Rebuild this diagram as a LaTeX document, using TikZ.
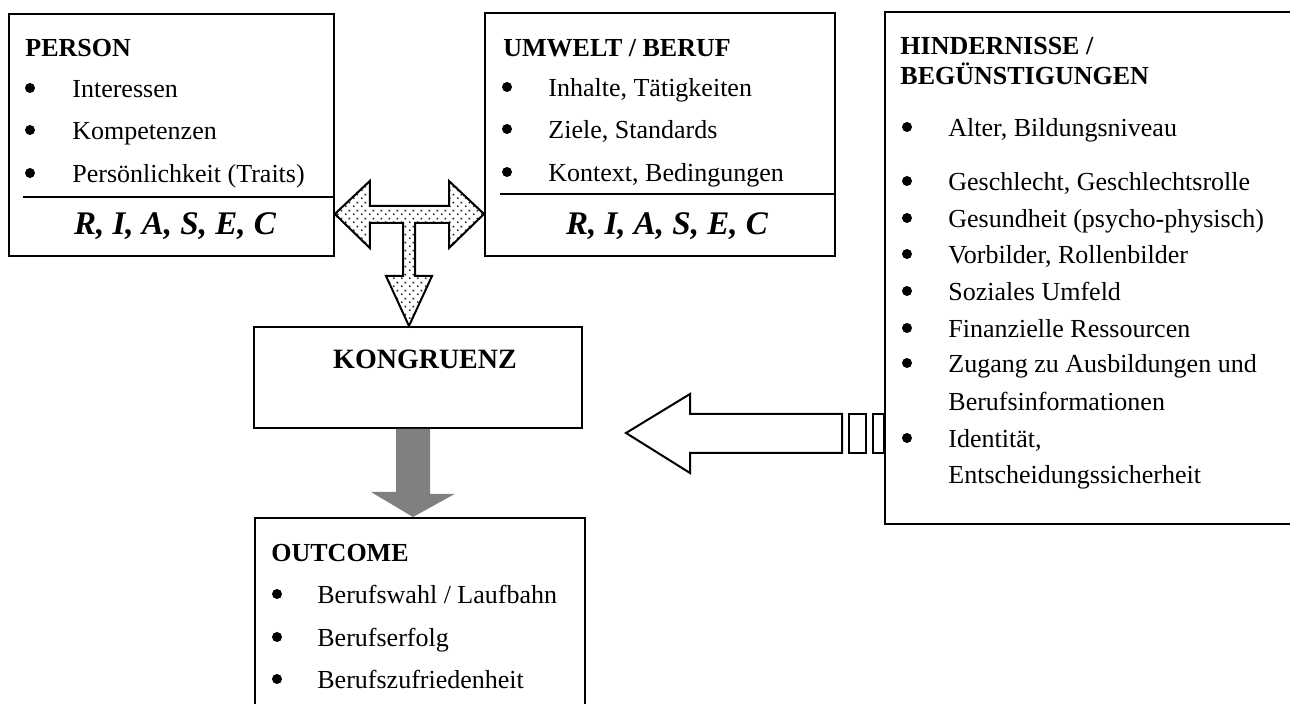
\documentclass[tikz,border=0pt]{standalone}
\usepackage{fontspec}
\setmainfont{Liberation Serif}
\usetikzlibrary{calc,patterns.meta}

\tikzdeclarepattern{
  name=sparsedots,
  type=uncolored,
  bottom left={(0pt,0pt)},
  top right={(4pt,4pt)},
  tile size={(4pt,4pt)},
  code={
    \pgfpathcircle{\pgfpoint{1pt}{1pt}}{0.6pt}
    \pgfpathcircle{\pgfpoint{3pt}{3pt}}{0.6pt}
    \pgfusepath{fill}
  }
}

\begin{document}
\begin{tikzpicture}[
    x=0.5pt, y=-0.5pt,
    box/.style={draw, line width=0.9pt, inner sep=0pt, anchor=north west},
    heading/.style={anchor=base west, inner sep=0pt, font=\fontsize{13}{15}\selectfont\bfseries},
    entry/.style={anchor=base west, inner sep=0pt, font=\fontsize{13}{15}\selectfont},
    bulletdot/.style={circle, fill, inner sep=0pt, minimum size=5pt},
    riasec/.style={anchor=base, inner sep=0pt, font=\fontsize{16.5}{18}\selectfont\bfseries\itshape},
    blockarrow/.style={draw, line width=1pt, line join=miter},
    dotarrow/.style={blockarrow, preaction={fill=white}, pattern=sparsedots, pattern color=black!80}
  ]
  \useasboundingbox (0,0) rectangle (1290,704);

  % Boxes
  \node[box, minimum width=162.5pt, minimum height=121pt] (person) at (8,13) {};
  \node[box, minimum width=175pt, minimum height=121.5pt] (umwelt) at (484,12) {};
  \node[box, minimum width=210pt, minimum height=256pt] (hind) at (884,11) {};
  \node[box, minimum width=164pt, minimum height=50.5pt] (kongruenz) at (253,326) {};
  \node[box, minimum width=165pt, minimum height=110pt] (outcome) at (254,517) {};

  % Person
  \node[heading] (p-title) at (25,57) {PERSON};
  \node[bulletdot] (p-b1) at (30,88) {};
  \node[entry] (p-1) at (72,98) {Interessen};
  \node[bulletdot] (p-b2) at (30,130) {};
  \node[entry] (p-2) at (72,140) {Kompetenzen};
  \node[bulletdot] (p-b3) at (30,173) {};
  \node[entry] (p-3) at (72,183) {Persönlichkeit (Traits)};
  \draw[line width=0.9pt] ($(person.north west)+(15,184)$) -- ($(person.north east)+(0,184)$);
  \node[riasec] (p-riasec) at (175,235) {R, I, A, S, E, C};

  % Umwelt / Beruf
  \node[heading] (u-title) at (503,57) {UMWELT / BERUF};
  \node[bulletdot] (u-b1) at (507,87) {};
  \node[entry] (u-1) at (548,97) {Inhalte, Tätigkeiten};
  \node[bulletdot] (u-b2) at (507,129) {};
  \node[entry] (u-2) at (548,139) {Ziele, Standards};
  \node[bulletdot] (u-b3) at (507,172) {};
  \node[entry] (u-3) at (548,182) {Kontext, Bedingungen};
  \draw[line width=0.9pt] ($(umwelt.north west)+(16,182)$) -- ($(umwelt.north east)+(0,182)$);
  \node[riasec] (u-riasec) at (667,235) {R, I, A, S, E, C};

  % Hindernisse / Beguenstigungen
  \node[heading] (h-title1) at (900,55) {HINDERNISSE /};
  \node[heading] (h-title2) at (900,85) {BEGÜNSTIGUNGEN};
  \node[bulletdot] (h-b1) at (907,127) {};
  \node[entry] (h-1) at (948,137) {Alter, Bildungsniveau};
  \node[bulletdot] (h-b2) at (907,181) {};
  \node[entry] (h-2) at (948,191) {Geschlecht, Geschlechtsrolle};
  \node[bulletdot] (h-b3) at (907,218) {};
  \node[entry] (h-3) at (948,228) {Gesundheit (psycho-physisch)};
  \node[bulletdot] (h-b4) at (907,254) {};
  \node[entry] (h-4) at (948,264) {Vorbilder, Rollenbilder};
  \node[bulletdot] (h-b5) at (907,291) {};
  \node[entry] (h-5) at (948,301) {Soziales Umfeld};
  \node[bulletdot] (h-b6) at (907,328) {};
  \node[entry] (h-6) at (948,338) {Finanzielle Ressourcen};
  \node[bulletdot] (h-b7) at (907,363) {};
  \node[entry] (h-7) at (948,373) {Zugang zu Ausbildungen und};
  \node[entry] (h-7b) at (948,411) {Berufsinformationen};
  \node[bulletdot] (h-b8) at (907,438) {};
  \node[entry] (h-8) at (948,448) {Identität,};
  \node[entry] (h-8b) at (948,484) {Entscheidungssicherheit};

  % Kongruenz
  \node[heading, anchor=base, font=\fontsize{14}{16}\selectfont\bfseries] (k-title) at (425,369) {KONGRUENZ};

  % Outcome
  \node[heading] (o-title) at (271,562) {OUTCOME};
  \node[bulletdot] (o-b1) at (277,594) {};
  \node[entry] (o-1) at (317,604) {Berufswahl / Laufbahn};
  \node[bulletdot] (o-b2) at (277,637) {};
  \node[entry] (o-2) at (317,647) {Berufserfolg};
  \node[bulletdot] (o-b3) at (277,679) {};
  \node[entry] (o-3) at (317,689) {Berufszufriedenheit};

  % Dotted T arrow between person, umwelt and kongruenz
  \coordinate (tjoin) at (409,214);
  \coordinate (tl) at (person.east |- tjoin);
  \coordinate (tr) at (umwelt.west |- tjoin);
  \coordinate (kdown) at (kongruenz.north -| tjoin);
  \draw[dotarrow] (tl) -- ++(35,-33) -- ++(0,25) -- ($(tr)+(-35,-8)$) -- ++(0,-25) -- (tr)
    -- ++(-35,34) -- ++(0,-25) -- ($(kdown)+(6,-103)$) -- ++(0,53) -- ++(17,0) -- (kdown)
    -- ++(-23,-50) -- ++(17,0) -- ++(0,-53) -- ($(tl)+(35,9)$) -- ++(0,25) -- cycle;

  % Grey arrow kongruenz -> outcome
  \coordinate (gtip) at (outcome.north -| 413,0);
  \fill[black!50] (gtip) -- ++(-42,-25) -- ++(25,0) -- (kongruenz.south -| 396,0)
    -- (kongruenz.south -| 430,0) -- ++(0,65) -- ++(25,0) -- cycle;

  % Hollow arrow from hindernisse
  \coordinate (htip) at (626,433);
  \draw[blockarrow, fill=white] (htip) -- ++(64,-39) -- ++(0,20) -- ++(152,0) -- ++(0,39)
    -- ++(-152,0) -- ++(0,20) -- cycle;
  \draw[blockarrow] ($(htip)+(223,-19)$) rectangle ++(17,39);
  \draw[blockarrow] ($(htip)+(247,-19)$) rectangle (hind.west |- 0,453);

\end{tikzpicture}
\end{document}
